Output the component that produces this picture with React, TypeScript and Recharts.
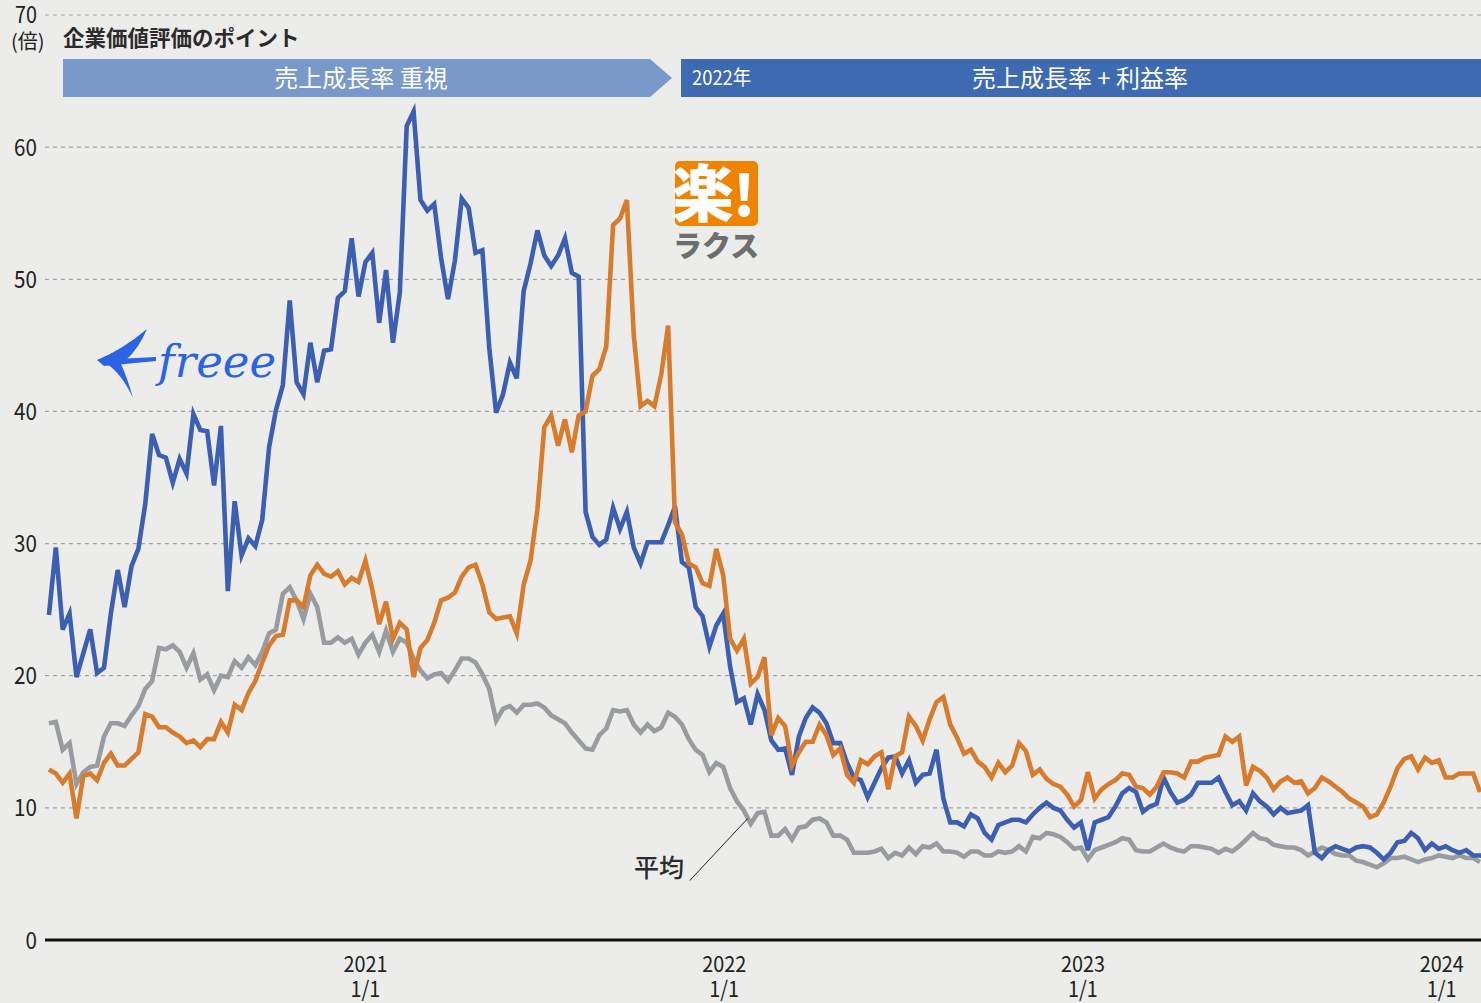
import React from 'react';
import { LineChart, Line, XAxis, YAxis, CartesianGrid, ReferenceLine } from 'recharts';

// Weekly closes (Fridays), first week 2020-02-14
const FIRST_WEEK = Date.UTC(2020, 1, 14);
const WEEK_MS = 7 * 86400000;

// freee (blue) EV/Sales multiple
const FREEE = [
  24.6, 29.7, 23.5, 24.7, 19.9, 21.7, 23.5, 20.2, 20.6, 24.7,
  28.0, 25.2, 28.3, 29.6, 33.0, 38.3, 36.7, 36.5, 34.6, 36.4,
  35.3, 39.8, 38.6, 38.5, 34.4, 38.9, 26.4, 33.2, 29.1, 30.4,
  29.8, 31.8, 37.3, 40.1, 42.0, 48.4, 42.2, 41.3, 45.2, 42.2,
  44.6, 44.7, 48.6, 49.1, 53.1, 48.7, 51.3, 52.0, 46.7, 50.7,
  45.2, 49.0, 61.6, 62.7, 56.0, 55.2, 55.7, 51.6, 48.5, 51.4,
  56.1, 55.4, 52.0, 52.2, 44.8, 39.9, 41.3, 43.7, 42.5, 49.1,
  51.2, 53.7, 51.8, 51.0, 51.8, 53.1, 50.5, 50.2, 32.4, 30.5,
  29.9, 30.3, 32.7, 31.1, 32.4, 29.7, 28.5, 30.1, 30.1, 30.1,
  31.4, 32.8, 28.6, 28.2, 25.2, 24.5, 22.2, 23.8, 24.7, 20.7,
  18.0, 18.3, 16.3, 18.6, 17.4, 15.1, 14.4, 14.5, 12.5, 15.4,
  16.8, 17.6, 17.2, 16.4, 14.9, 14.9, 13.4, 12.3, 12.1, 10.8,
  11.9, 13.0, 13.8, 13.9, 12.6, 13.6, 11.9, 12.5, 12.6, 14.4,
  10.7, 8.9, 8.9, 8.6, 9.5, 9.2, 8.1, 7.6, 8.7, 8.9,
  9.1, 9.1, 8.9, 9.5, 10.0, 10.4, 10.0, 9.8, 9.1, 8.5,
  8.9, 6.8, 8.9, 9.1, 9.3, 10.1, 11.1, 11.5, 11.2, 9.7,
  10.1, 10.3, 12.3, 11.2, 10.4, 10.6, 11.0, 11.9, 11.9, 11.9,
  12.3, 11.2, 10.2, 10.5, 9.8, 11.1, 10.5, 10.1, 9.5, 10.0,
  9.6, 9.7, 9.8, 10.2, 6.6, 6.2, 6.8, 7.1, 6.9, 6.7,
  7.0, 7.1, 7.0, 6.6, 6.1, 6.6, 7.4, 7.5, 8.1, 7.7,
  6.8, 7.3, 6.9, 7.1, 6.8, 6.6, 6.8, 6.4, 6.4, 6.3,
];

// Rakus (orange)
const RAKUS = [
  12.9, 12.6, 11.9, 12.6, 9.2, 12.4, 12.6, 12.1, 13.4, 14.1,
  13.2, 13.2, 13.7, 14.2, 17.1, 16.9, 16.1, 16.1, 15.7, 15.4,
  14.9, 15.1, 14.6, 15.2, 15.2, 16.5, 15.7, 17.8, 17.4, 18.7,
  19.6, 21.0, 22.3, 23.0, 23.1, 25.7, 25.7, 25.2, 27.6, 28.4,
  27.7, 27.5, 27.9, 26.9, 27.4, 27.1, 28.7, 26.5, 23.9, 25.6,
  22.8, 24.0, 23.5, 19.9, 22.1, 22.7, 24.0, 25.7, 25.9, 26.3,
  27.5, 28.2, 28.4, 26.9, 24.8, 24.3, 24.4, 24.5, 23.2, 26.9,
  28.7, 32.6, 38.8, 39.7, 37.4, 39.4, 36.9, 39.7, 40.0, 42.7,
  43.2, 44.9, 54.1, 54.6, 56.0, 45.8, 40.4, 40.8, 40.4, 42.8,
  46.5, 31.6, 30.7, 28.5, 28.2, 27.0, 26.8, 29.6, 27.6, 22.8,
  21.9, 22.8, 19.4, 19.9, 21.4, 15.5, 16.8, 16.2, 13.2, 14.2,
  15.0, 15.0, 16.3, 15.5, 14.0, 14.5, 12.5, 11.9, 13.6, 13.3,
  13.9, 14.2, 11.4, 13.9, 14.2, 16.9, 16.2, 15.1, 16.7, 18.0,
  18.4, 16.3, 15.3, 14.1, 14.4, 13.5, 13.1, 12.3, 13.4, 12.7,
  13.2, 14.9, 14.3, 12.5, 12.9, 12.2, 11.8, 11.6, 11.0, 10.1,
  10.6, 12.7, 10.7, 11.4, 11.8, 12.1, 12.6, 12.5, 11.6, 11.5,
  11.0, 11.6, 12.7, 12.7, 12.6, 12.3, 13.5, 13.5, 13.8, 13.9,
  14.0, 15.4, 15.0, 15.4, 11.7, 13.1, 12.8, 12.3, 11.4, 12.0,
  12.3, 11.9, 12.0, 11.1, 11.5, 12.3, 12.0, 11.6, 11.2, 10.7,
  10.4, 10.1, 9.3, 9.5, 10.4, 11.6, 13.0, 13.7, 13.9, 12.9,
  13.8, 13.4, 13.6, 12.3, 12.3, 12.6, 12.6, 12.6, 11.2,
];

// Peer average (grey)
const AVERAGE = [
  16.4, 16.5, 14.4, 14.9, 11.8, 12.7, 13.1, 13.2, 15.4, 16.4,
  16.4, 16.2, 17.0, 17.7, 19.0, 19.6, 22.1, 22.0, 22.3, 21.8,
  20.6, 21.7, 19.7, 20.1, 18.9, 20.0, 19.9, 21.1, 20.6, 21.4,
  20.8, 21.8, 23.2, 23.5, 26.2, 26.7, 25.7, 24.3, 26.2, 25.2,
  22.5, 22.5, 22.9, 22.5, 22.8, 21.6, 22.5, 23.1, 21.8, 23.4,
  21.8, 22.8, 22.5, 21.3, 20.4, 19.8, 20.1, 20.2, 19.6, 20.4,
  21.3, 21.3, 21.0, 20.1, 19.0, 16.6, 17.5, 17.7, 17.2, 17.8,
  17.8, 17.9, 17.6, 17.0, 16.7, 16.4, 15.7, 15.1, 14.5, 14.4,
  15.5, 16.0, 17.4, 17.3, 17.4, 16.3, 15.7, 16.3, 15.8, 16.1,
  17.2, 16.9, 16.3, 15.2, 14.4, 14.0, 12.7, 13.4, 13.1, 11.5,
  10.5, 9.8, 8.8, 9.6, 9.7, 7.9, 7.9, 8.4, 7.6, 8.5,
  8.6, 9.1, 9.2, 8.9, 7.9, 7.9, 7.6, 6.6, 6.6, 6.6,
  6.7, 6.9, 6.2, 6.6, 6.4, 7.0, 6.5, 7.1, 7.0, 7.3,
  6.7, 6.7, 6.6, 6.3, 6.7, 6.7, 6.4, 6.4, 6.7, 6.6,
  6.7, 7.1, 6.7, 7.8, 7.7, 8.1, 8.0, 7.8, 7.4, 6.9,
  7.0, 6.1, 6.8, 7.0, 7.2, 7.4, 7.7, 7.6, 6.8, 6.7,
  6.7, 7.0, 7.3, 7.0, 6.8, 6.7, 7.1, 7.1, 7.0, 6.9,
  6.6, 6.9, 6.7, 7.1, 7.6, 8.1, 7.7, 7.6, 7.2, 7.1,
  7.0, 7.0, 6.8, 6.4, 6.7, 7.0, 6.8, 6.5, 6.4, 6.4,
  6.0, 5.9, 5.7, 5.5, 5.8, 6.2, 6.2, 6.3, 6.1, 5.9,
  6.1, 6.2, 6.4, 6.3, 6.2, 6.4, 6.2, 6.2, 5.9,
];

const Y_TICKS = [0, 10, 20, 30, 40, 50, 60, 70];
const X_TICKS = [Date.UTC(2021, 0, 1), Date.UTC(2022, 0, 1), Date.UTC(2023, 0, 1), Date.UTC(2024, 0, 1)];
const X_DOMAIN = [Date.UTC(2020, 1, 10), Date.UTC(2024, 1, 10)];
const X_TICK_SUB = '1/1';

const TITLE = '企業価値評価のポイント';
const UNIT = '(倍)';
const PHASE1 = '売上成長率 重視';
const PHASE2_YEAR = '2022年';
const PHASE2 = '売上成長率 + 利益率';
const AVG_LABEL = '平均';
const AVG_LEADER = [
  { x: Date.UTC(2021, 10, 27), y: 4.5 },
  { x: Date.UTC(2022, 0, 25), y: 9.2 },
];

const COLORS = {
  bg: '#ecedea',
  freee: '#3d5fb1',
  rakus: '#d97b2c',
  avg: '#989b9f',
  grid: '#a3a3a3',
  text: '#222222',
  band1: '#7a99cb',
  band2: '#3e6ab1',
};

const FONT = '"Noto Sans CJK JP", "Noto Sans", sans-serif';
const LINE_W = 4.6;

const rows = FREEE.map((v, i) => ({
  t: FIRST_WEEK + i * WEEK_MS,
  freee: v,
  rakus: RAKUS[i],
  avg: AVERAGE[i],
}));

const YTick = (props: any) => {
  const { y, payload } = props;
  const isTop = payload.value === 70;
  return (
    <g>
      <text
        transform={`translate(37, ${y + (isTop ? 8 : 8.5)}) scale(0.86, 1)`}
        textAnchor="end"
        fontSize={isTop ? 23 : 24}
        fill={COLORS.text}
        fontFamily={FONT}
      >
        {payload.value}
      </text>
      {isTop && (
        <text x={11} y={y + 34} fontSize={20} fill={COLORS.text} fontFamily={FONT}>
          {UNIT}
        </text>
      )}
    </g>
  );
};

const XTick = (props: any) => {
  const { x, payload } = props;
  const year = new Date(payload.value).getUTCFullYear();
  return (
    <g transform={`translate(${x}, 0) scale(0.9, 1)`}>
      <text textAnchor="middle" fontSize={22} fill={COLORS.text} fontFamily={FONT}>
        <tspan x={0} y={972}>{year}</tspan>
        <tspan x={0} y={997}>{X_TICK_SUB}</tspan>
      </text>
    </g>
  );
};

export default function App() {
  return (
    <div
      style={{
        position: 'fixed',
        left: 0,
        top: 0,
        width: 1481,
        height: 1003,
        background: COLORS.bg,
        overflow: 'hidden',
        fontFamily: FONT,
      }}
    >
      <LineChart
        width={1481}
        height={1003}
        data={rows}
        margin={{ top: 15, right: 0, bottom: 0, left: 0 }}
      >
        <CartesianGrid
          horizontal
          vertical={false}
          stroke={COLORS.grid}
          strokeDasharray="4 4"
          strokeWidth={1.2}
        />
        <XAxis
          dataKey="t"
          type="number"
          domain={X_DOMAIN}
          ticks={X_TICKS}
          allowDataOverflow
          interval={0}
          height={63}
          tickLine={false}
          axisLine={{ stroke: '#111111', strokeWidth: 3 }}
          tick={<XTick />}
        />
        <YAxis
          type="number"
          domain={[0, 70]}
          ticks={Y_TICKS}
          interval={0}
          width={45}
          axisLine={false}
          tickLine={false}
          tick={<YTick />}
        />
        <Line
          type="linear"
          dataKey="avg"
          stroke={COLORS.avg}
          strokeWidth={LINE_W}
          dot={false}
          activeDot={false}
          isAnimationActive={false}
        />
        <Line
          type="linear"
          dataKey="freee"
          stroke={COLORS.freee}
          strokeWidth={LINE_W}
          dot={false}
          activeDot={false}
          isAnimationActive={false}
        />
        <Line
          type="linear"
          dataKey="rakus"
          stroke={COLORS.rakus}
          strokeWidth={LINE_W}
          dot={false}
          activeDot={false}
          isAnimationActive={false}
        />
        <ReferenceLine
          segment={AVG_LEADER}
          stroke="#222222"
          strokeWidth={1}
          ifOverflow="visible"
        />
      </LineChart>

      <svg
        width={1481}
        height={1003}
        style={{ position: 'absolute', left: 0, top: 0, pointerEvents: 'none' }}
      >
        <text x={63} y={45.5} fontSize={21.5} fontWeight={700} fill="#2b2b2b" fontFamily={FONT}>
          {TITLE}
        </text>

        <polygon points="63,59 650,59 672,78 650,97 63,97" fill={COLORS.band1} />
        <text x={361} y={86.5} textAnchor="middle" fontSize={24} fill="#ffffff" fontFamily={FONT}>
          {PHASE1}
        </text>

        <rect x={681} y={59} width={800} height={38} fill={COLORS.band2} />
        <text
          transform="translate(692, 85) scale(0.92, 1)"
          fontSize={20}
          fill="#ffffff"
          fontFamily={FONT}
        >
          {PHASE2_YEAR}
        </text>
        <text x={1080} y={86.5} textAnchor="middle" fontSize={24} fill="#ffffff" fontFamily={FONT}>
          {PHASE2}
        </text>

        {/* Rakus logo */}
        <rect x={675} y={161} width={83} height={65} rx={5} fill="#f08300" />
        <text x={672} y={217} fontSize={62} fontWeight={900} fill="#ffffff" fontFamily={FONT}>
          楽
        </text>
        <text x={733} y={216} fontSize={56} fontWeight={900} fill="#ffffff" fontFamily={FONT}>
          !
        </text>
        <text x={673} y={257} fontSize={29} fontWeight={900} fill="#6e6e6e" fontFamily={FONT}>
          ラクス
        </text>

        {/* freee logo */}
        <g fill="#2a63e6">
          <path d="M 97 360 Q 122 350 147 329 Q 139 348 126 360 Z" />
          <path d="M 104 362 Q 121 372 133 398 Q 127 377 121 364 Z" />
          <path d="M 97 360 L 156 357 L 156 361 L 104 366 Z" />
        </g>
        <text
          x={158}
          y={377}
          fontSize={45}
          fontStyle="italic"
          fill="#2a63e6"
          fontFamily='"DejaVu Serif", "Liberation Serif", serif'
        >
          freee
        </text>

        <text x={634} y={877} fontSize={25} fontWeight={500} fill="#2b2b2b" fontFamily={FONT}>
          {AVG_LABEL}
        </text>
      </svg>
    </div>
  );
}
